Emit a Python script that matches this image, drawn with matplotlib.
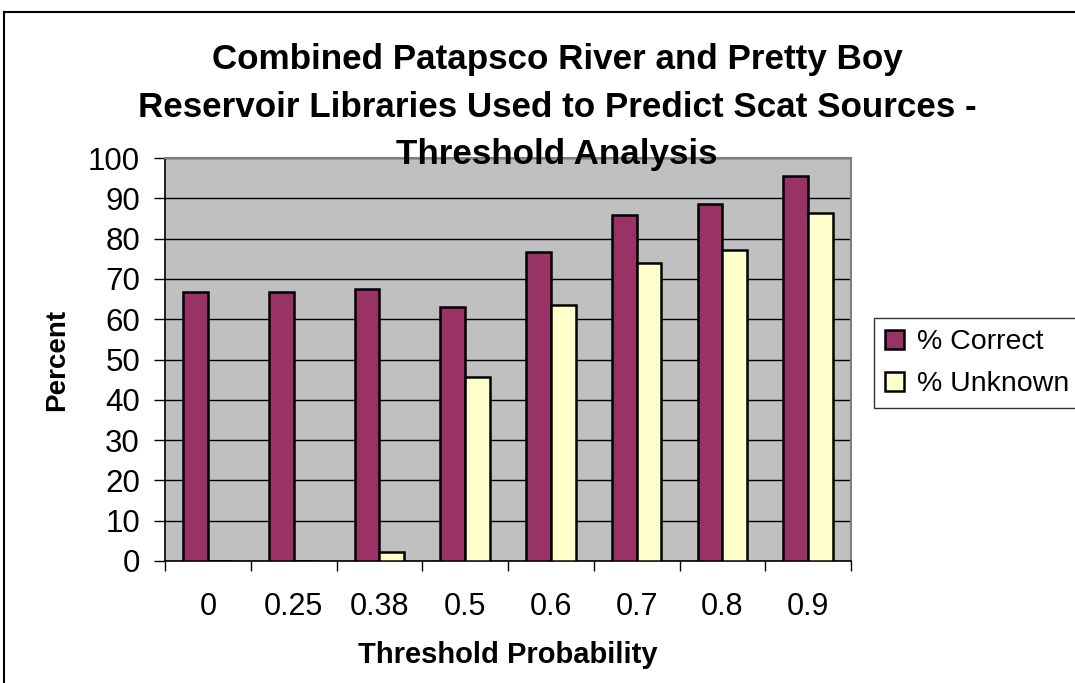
import matplotlib.pyplot as plt
import numpy as np
from matplotlib.patches import Rectangle

plt.rcParams['font.family'] = ['Liberation Sans', 'DejaVu Sans']

thresholds = ['0', '0.25', '0.38', '0.5', '0.6', '0.7', '0.8', '0.9']
pct_correct = [66.8, 66.8, 67.4, 63.1, 76.7, 85.9, 88.6, 95.6]
pct_unknown = [0.0, 0.0, 2.2, 45.7, 63.5, 73.9, 77.2, 86.4]

W, H = 1075, 683
fig = plt.figure(figsize=(W / 100, H / 100), dpi=100)
ax = fig.add_axes([165 / W, 1 - 561 / H, (851 - 165) / W, (561 - 158) / H])

x = np.arange(len(thresholds))
bw = 0.29
ax.bar(x - bw / 2, pct_correct, bw, color='#993366', edgecolor='black',
       linewidth=1.8, label='% Correct', zorder=3)
ax.bar(x + bw / 2, pct_unknown, bw, color='#FFFFCC', edgecolor='black',
       linewidth=1.8, label='% Unknown', zorder=3)

ax.set_facecolor('#C0C0C0')
ax.set_xlim(-0.5, len(thresholds) - 0.5)
ax.set_ylim(0, 100)
ax.set_yticks(range(0, 101, 10))
ax.yaxis.grid(True, color='black', linewidth=1, zorder=1)
ax.set_axisbelow(True)

# category labels centred, tick marks on the category boundaries
ax.set_xticks(x)
ax.set_xticklabels(thresholds)
ax.set_xticks(np.arange(-0.5, len(thresholds)), minor=True)
ax.tick_params(axis='x', which='major', length=0, pad=22, labelsize=22)
ax.tick_params(axis='x', which='minor', length=7, width=1, direction='out')
ax.tick_params(axis='y', length=8, width=1, direction='out', labelsize=22.5, pad=10)

for side in ['top', 'right']:
    ax.spines[side].set_color('#808080')
    ax.spines[side].set_linewidth(1.5)
for side in ['left', 'bottom']:
    ax.spines[side].set_color('black')
    ax.spines[side].set_linewidth(1.2)

ax.set_ylabel('Percent', fontsize=20, fontweight='bold', labelpad=13)
ax.set_xlabel('Threshold Probability', fontsize=21, fontweight='bold', labelpad=14)

fig.text(557 / W, 1 - 43 / H,
         'Combined Patapsco River and Pretty Boy\n'
         'Reservoir Libraries Used to Predict Scat Sources -\n'
         'Threshold Analysis',
         ha='center', va='top', fontsize=25.2, fontweight='bold',
         linespacing=1.56)

leg = ax.legend(loc='upper left', bbox_to_anchor=(874 / W, 1 - 318 / H),
                bbox_transform=fig.transFigure, fontsize=20.5, frameon=True,
                fancybox=False, edgecolor='black', handlelength=0.65,
                handleheight=0.65, handletextpad=0.45, labelspacing=0.55,
                borderpad=0.4, borderaxespad=0)
leg.get_frame().set_linewidth(1)

# outer chart border
fig.patches.append(Rectangle((4 / W, -0.1), 1.2, 1 - 12 / H + 0.1,
                             transform=fig.transFigure, fill=False,
                             edgecolor='black', linewidth=1.5))

fig.savefig('out.png', dpi=100)
